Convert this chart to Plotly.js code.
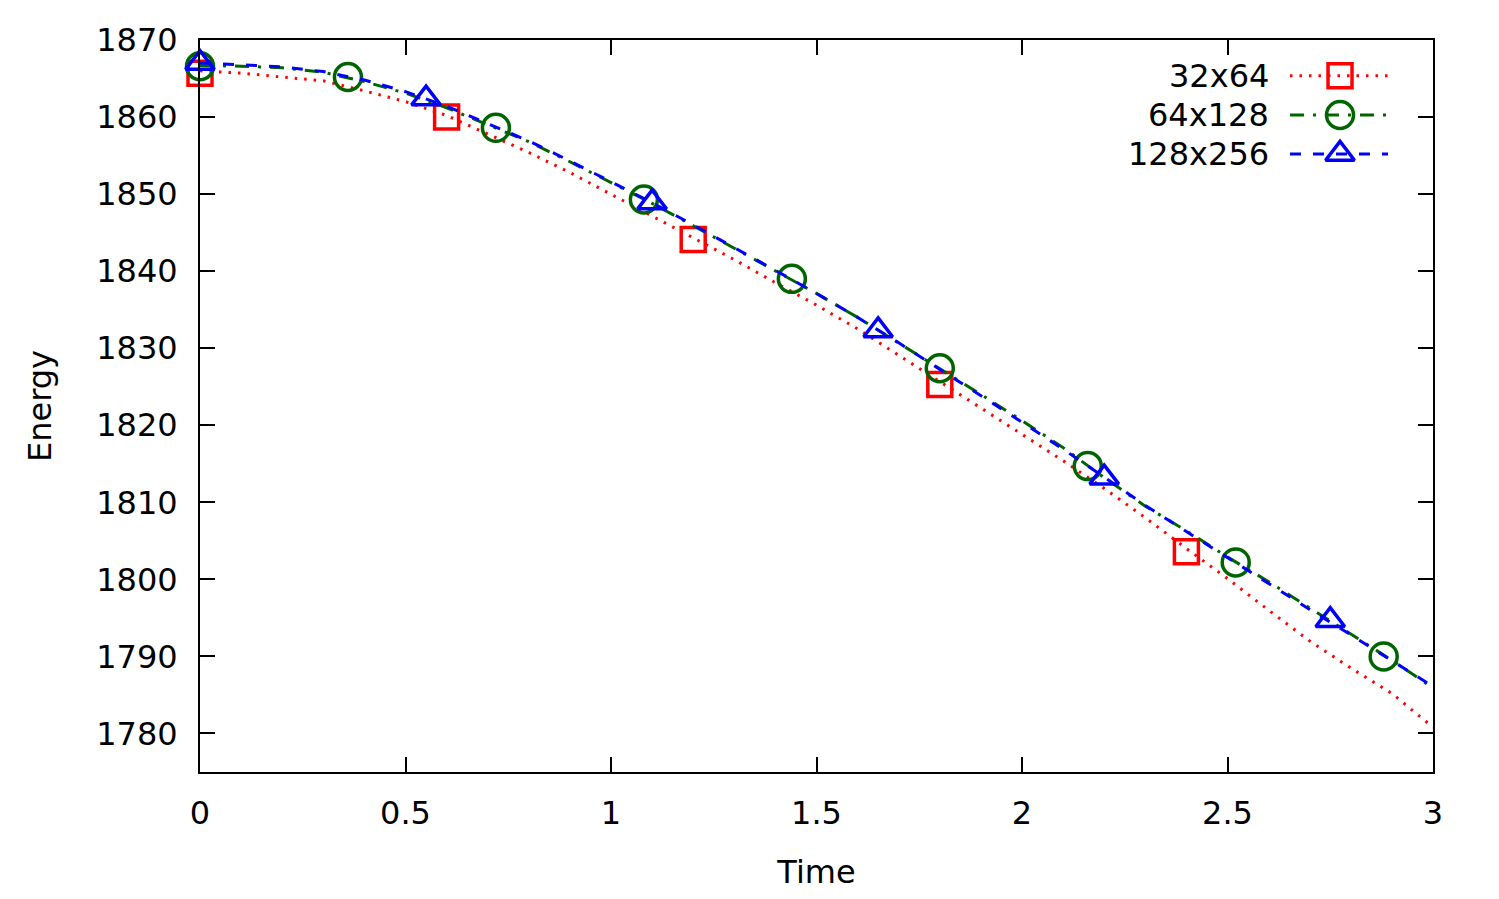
<!DOCTYPE html>
<html>
<head>
<meta charset="utf-8">
<script src="https://cdn.plot.ly/plotly-3.0.1.min.js"></script>
<style>
  html, body { margin: 0; padding: 0; background: #fff; }
  #plotly_graph { width: 1499px; height: 899px; }
</style>
</head>
<body>
<div id="plotly_graph"></div>
<script>
// *********************************************************************************************
// DATA

const SERIES_NAMES = ['32x64', '64x128', '128x256']

const TIME = [0, 0.1, 0.2, 0.3, 0.4, 0.5, 0.6, 0.7, 0.8, 0.9,
              1.0, 1.1, 1.2, 1.3, 1.4, 1.5, 1.6, 1.7, 1.8, 1.9,
              2.0, 2.1, 2.2, 2.3, 2.4, 2.5, 2.6, 2.7, 2.8, 2.9, 3.0]

const ENERGY_32 = [1866.0, 1865.7, 1865.2, 1864.7, 1863.4, 1862.0, 1860.2, 1857.8, 1855.4, 1852.8,
                   1850.0, 1847.2, 1844.4, 1841.5, 1838.5, 1835.6, 1832.5, 1829.1, 1825.6, 1822.2,
                   1818.9, 1815.4, 1811.8, 1808.0, 1804.0, 1800.1, 1796.0, 1792.0, 1788.5, 1785.2, 1780.8]

const ENERGY_64 = [1866.7, 1866.6, 1866.4, 1865.8, 1864.6, 1863.1, 1861.2, 1859.0, 1856.8, 1854.2,
                   1851.5, 1848.8, 1845.9, 1843.0, 1840.1, 1837.1, 1834.0, 1830.7, 1827.4, 1824.0,
                   1820.6, 1817.1, 1813.2, 1809.5, 1806.3, 1802.9, 1799.7, 1796.3, 1792.8, 1789.5, 1785.9]

const ENERGY_128 = [1867.0, 1866.8, 1866.5, 1865.9, 1864.8, 1863.3, 1861.4, 1859.2, 1856.9, 1854.3,
                    1851.6, 1848.9, 1846.0, 1843.1, 1840.1, 1837.1, 1834.0, 1830.7, 1827.3, 1823.9,
                    1820.4, 1816.9, 1813.2, 1809.6, 1806.2, 1802.8, 1799.5, 1796.1, 1792.8, 1789.4, 1786.1]

// point samples (gnuplot pointinterval)
const MARK_T_32 = [0, 0.6, 1.2, 1.8, 2.4]
const MARK_E_32 = [1865.7, 1860.0, 1844.1, 1825.3, 1803.6]

const MARK_T_64 = [0, 0.36, 0.72, 1.08, 1.44, 1.8, 2.16, 2.52, 2.88]
const MARK_E_64 = [1866.6, 1865.2, 1858.6, 1849.3, 1839.0, 1827.4, 1814.7, 1802.2, 1790.0]

const MARK_T_128 = [0, 0.55, 1.1, 1.65, 2.2, 2.75]
const MARK_E_128 = [1867.0, 1862.4, 1848.9, 1832.3, 1813.2, 1794.7]


// *********************************************************************************************
// STYLES

const FONT = 'DejaVu Sans, sans-serif'
const FS = 32
const COLORS = ['#ff0000', '#006400', '#0000ff']
const DASHES = ['2.5px,7px', '14px,9px,3px,9px', '11px,12px']
const SYMBOLS = ['square-open', 'circle-open', 'triangle-up-open']
const SIZES = [24, 27, 25]
const LINE_W = 3
const MARK_W = 3.5

const LINES = [
    { x: TIME, y: ENERGY_32 },
    { x: TIME, y: ENERGY_64 },
    { x: TIME, y: ENERGY_128 }
]
const MARKS = [
    { x: MARK_T_32, y: MARK_E_32 },
    { x: MARK_T_64, y: MARK_E_64 },
    { x: MARK_T_128, y: MARK_E_128 }
]

let data = []

SERIES_NAMES.forEach((name, i) => {
    data.push({
        name: name,
        type: 'scatter',
        mode: 'lines',
        x: LINES[i].x,
        y: LINES[i].y,
        line: { color: COLORS[i], width: LINE_W, dash: DASHES[i] },
        showlegend: false,
        hoverinfo: 'skip'
    })
    data.push({
        name: name,
        type: 'scatter',
        mode: 'markers',
        x: MARKS[i].x,
        y: MARKS[i].y,
        cliponaxis: false,
        marker: { symbol: SYMBOLS[i], size: SIZES[i], color: COLORS[i], line: { color: COLORS[i], width: MARK_W } },
        showlegend: false
    })
})

// key drawn gnuplot style: label on the left, sample on the right
const KEY_X0 = 0.884, KEY_XM = 0.9246, KEY_X1 = 0.9635
const KEY_ROWS = [0.951, 0.8975, 0.8443]

let annotations = []

SERIES_NAMES.forEach((name, i) => {
    data.push({
        type: 'scatter', mode: 'lines', xaxis: 'x2', yaxis: 'y2',
        x: [KEY_X0, KEY_X1], y: [KEY_ROWS[i], KEY_ROWS[i]],
        line: { color: COLORS[i], width: LINE_W, dash: DASHES[i] },
        showlegend: false, hoverinfo: 'skip'
    })
    data.push({
        type: 'scatter', mode: 'markers', xaxis: 'x2', yaxis: 'y2',
        x: [KEY_XM], y: [KEY_ROWS[i]],
        marker: { symbol: SYMBOLS[i], size: SIZES[i], color: COLORS[i], line: { color: COLORS[i], width: MARK_W } },
        showlegend: false, hoverinfo: 'skip'
    })
    annotations.push({
        xref: 'paper', yref: 'paper', x: 0.8685, y: KEY_ROWS[i],
        xanchor: 'right', yanchor: 'middle', showarrow: false,
        text: name, font: { family: FONT, size: FS, color: '#000' }
    })
})


// *********************************************************************************************
// LAYOUT

const axisCommon = {
    showgrid: false,
    zeroline: false,
    showline: true,
    linecolor: '#000',
    linewidth: 2,
    mirror: 'allticks',
    ticks: 'inside',
    ticklen: 15,
    tickwidth: 1.5,
    tickcolor: '#000',
    tickfont: { family: FONT, size: FS, color: '#000' }
}

let layout = {
    width: 1499,
    height: 899,
    margin: { t: 40, r: 66, b: 127, l: 200 },
    paper_bgcolor: '#fff',
    plot_bgcolor: '#fff',
    font: { family: FONT, size: FS, color: '#000' },
    showlegend: false,
    xaxis: Object.assign({}, axisCommon, {
        range: [0, 3],
        dtick: 0.5,
        tick0: 0,
        ticklabelstandoff: 12,
        title: { text: 'Time', font: { family: FONT, size: FS, color: '#000' }, standoff: 29 }
    }),
    yaxis: Object.assign({}, axisCommon, {
        range: [1775, 1870],
        dtick: 10,
        tick0: 1780,
        ticklabelstandoff: 14,
        title: { text: 'Energy', font: { family: FONT, size: FS, color: '#000' }, standoff: 35 }
    }),
    xaxis2: { overlaying: 'x', range: [0, 1], visible: false, fixedrange: true },
    yaxis2: { overlaying: 'y', range: [0, 1], visible: false, fixedrange: true },
    annotations: annotations
}


// *********************************************************************************************
// CONFIG

const config = {
    displaylogo: false,
    displayModeBar: false,
    responsive: false
}


// *********************************************************************************************
// CREATE AND APPEND

Plotly.newPlot(document.getElementById('plotly_graph'), data, layout, config)
</script>
</body>
</html>
